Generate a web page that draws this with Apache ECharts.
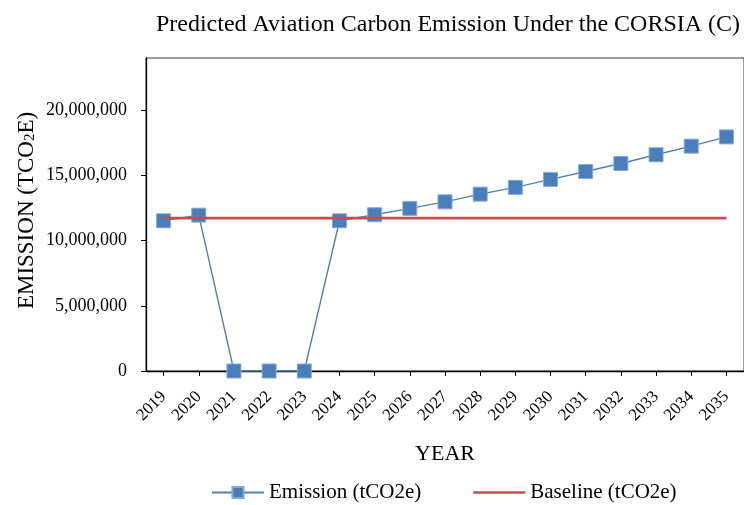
<!DOCTYPE html>
<html>
<head>
<meta charset="utf-8">
<script src="https://cdn.jsdelivr.net/npm/echarts@6/dist/echarts.min.js"></script>
<style>
  html, body { margin: 0; padding: 0; background: #ffffff; }
  #chart { width: 744px; height: 505px; }
</style>
</head>
<body>
<div id="chart"></div>
<script>
// Years on the category axis
const years = ['2019', '2020', '2021', '2022', '2023', '2024', '2025', '2026', '2027',
               '2028', '2029', '2030', '2031', '2032', '2033', '2034', '2035'];

// Predicted emission per year (tCO2e)
const emission = [11520000, 11950000, 0, 0, 0, 11520000, 11980000, 12470000, 12970000,
                  13560000, 14080000, 14690000, 15300000, 15910000, 16580000, 17240000, 17950000];

// CORSIA baseline per year (tCO2e)
const baseline = [11720000, 11720000, 11720000, 11720000, 11720000, 11720000, 11720000, 11720000, 11720000,
                  11720000, 11720000, 11720000, 11720000, 11720000, 11720000, 11720000, 11720000];

// Labelled ticks on the value axis
const yTicks = [0, 5000000, 10000000, 15000000, 20000000];

const FONT = "'Liberation Serif', 'Times New Roman', serif";

// Plain line swatch for the baseline legend entry (corner points keep the 52x14 box)
const LINE_ICON = 'path://M0,0L0.01,0Z M52,14L51.99,14Z M0,5.7L52,5.7L52,8.3L0,8.3Z';

const chart = echarts.init(document.getElementById('chart'), null, { renderer: 'canvas' });

chart.setOption({
  animation: false,
  backgroundColor: '#ffffff',
  title: {
    text: 'Predicted Aviation Carbon Emission Under the CORSIA (C)',
    left: 443,
    textAlign: 'center',
    top: 8,
    textStyle: { fontFamily: FONT, fontSize: 24, fontWeight: 'normal', color: '#000' }
  },
  legend: {
    left: 211,
    top: 482,
    padding: 0,
    itemWidth: 52,
    itemHeight: 14,
    itemGap: 52,
    textStyle: { fontFamily: FONT, fontSize: 21, color: '#000' },
    data: [
      { name: 'Emission (tCO2e)' },
      { name: 'Baseline (tCO2e)', icon: LINE_ICON, itemStyle: { color: '#C0504D' } }
    ]
  },
  grid: {
    left: 146,
    top: 58,
    width: 604,
    height: 313,
    show: true,
    borderColor: '#3a3a3a',
    borderWidth: 1,
    backgroundColor: 'transparent'
  },
  xAxis: {
    type: 'category',
    data: years,
    boundaryGap: true,
    name: 'YEAR',
    nameLocation: 'middle',
    nameGap: 72,
    nameMoveOverlap: false,
    nameTextStyle: { fontFamily: FONT, fontSize: 22, color: '#000' },
    axisLine: { show: true, lineStyle: { color: '#000', width: 1.3 } },
    axisTick: { show: true, alignWithLabel: true, length: 5, lineStyle: { color: '#000', width: 1 } },
    axisLabel: {
      interval: 0,
      rotate: 45,
      margin: 23,
      fontFamily: FONT,
      fontSize: 17,
      color: '#000'
    },
    splitLine: { show: false }
  },
  yAxis: {
    type: 'value',
    min: 0,
    max: 24000000,
    name: '{a|EMISSION (TCO}{b|2}{a|E)}',
    nameLocation: 'middle',
    nameRotate: 90,
    nameGap: 108,
    nameMoveOverlap: false,
    nameTextStyle: {
      fontFamily: FONT,
      fontSize: 23,
      color: '#000',
      padding: [0, 0, 0, 8],
      rich: {
        a: { fontFamily: FONT, fontSize: 23, color: '#000' },
        b: { fontFamily: FONT, fontSize: 15, color: '#000', verticalAlign: 'bottom' }
      }
    },
    axisLine: { show: true, lineStyle: { color: '#000', width: 1.3 } },
    axisTick: { show: true, length: 5, customValues: yTicks, lineStyle: { color: '#000', width: 1 } },
    axisLabel: {
      customValues: yTicks,
      margin: 19,
      fontFamily: FONT,
      fontSize: 18,
      color: '#000',
      formatter: function (v) { return Math.round(v).toLocaleString('en-US'); }
    },
    splitLine: { show: false }
  },
  series: [
    {
      name: 'Emission (tCO2e)',
      type: 'line',
      data: emission,
      symbol: 'rect',
      symbolSize: 14,
      showAllSymbol: true,
      lineStyle: { color: '#4F81BD', width: 1.4 },
      itemStyle: { color: '#4A7EBB', borderColor: '#85A9D6', borderWidth: 1 },
      z: 2
    },
    {
      name: 'Baseline (tCO2e)',
      type: 'line',
      data: baseline,
      symbol: 'none',
      lineStyle: { color: '#C0504D', width: 2.6 },
      itemStyle: { color: '#C0504D' },
      z: 3
    }
  ]
});
</script>
</body>
</html>
